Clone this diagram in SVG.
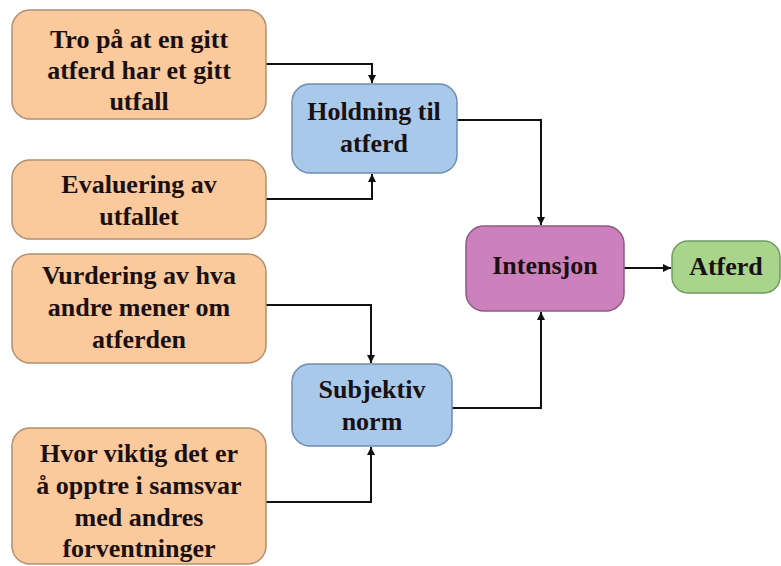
<svg xmlns="http://www.w3.org/2000/svg" width="781" height="566" viewBox="0 0 781 566">
<defs>
<marker id="ah" viewBox="0 0 10 10" refX="10" refY="5" markerWidth="8" markerHeight="8" markerUnits="userSpaceOnUse" orient="auto">
<path d="M0,0 L10,5 L0,10 z" fill="#111"/>
</marker>
<style>
.t{font-family:"Liberation Serif","Times New Roman",serif;font-weight:bold;font-size:26px;fill:#1a1010;text-anchor:middle}
.o{fill:#FAC99C;stroke:#B0906F;stroke-width:1.5}
.b{fill:#A8C9EA;stroke:#6F8DAE;stroke-width:1.5}
.p{fill:#CC80BC;stroke:#8C5A82;stroke-width:1.5}
.g{fill:#A8D48C;stroke:#6E9A5E;stroke-width:1.5}
.c{fill:none;stroke:#111;stroke-width:2}
</style>
</defs>
<rect width="781" height="566" fill="#fff"/>
<g id="connectors">
<path class="c" d="M266,64 H372 V83" marker-end="url(#ah)"/>
<path class="c" d="M266,199 H372 V174" marker-end="url(#ah)"/>
<path class="c" d="M457,120 H541 V225" marker-end="url(#ah)"/>
<path class="c" d="M266,305 H371 V363" marker-end="url(#ah)"/>
<path class="c" d="M266,502 H371 V447" marker-end="url(#ah)"/>
<path class="c" d="M452,408 H541 V312" marker-end="url(#ah)"/>
<path class="c" d="M624,268 H671" marker-end="url(#ah)"/>
</g>
<g id="tro">
<rect class="o" x="12" y="10" width="254" height="109" rx="18"/>
<text class="t" x="139" y="48">Tro på at en gitt</text>
<text class="t" x="139" y="79">atferd har et gitt</text>
<text class="t" x="139" y="110">utfall</text>
</g>
<g id="evaluering">
<rect class="o" x="12" y="160" width="254" height="79" rx="18"/>
<text class="t" x="139" y="193">Evaluering av</text>
<text class="t" x="139" y="225">utfallet</text>
</g>
<g id="vurdering">
<rect class="o" x="12" y="254" width="254" height="109" rx="18"/>
<text class="t" x="139" y="284">Vurdering av hva</text>
<text class="t" x="139" y="316">andre mener om</text>
<text class="t" x="139" y="348">atferden</text>
</g>
<g id="hvor">
<rect class="o" x="12" y="428" width="254" height="136" rx="18"/>
<text class="t" x="139" y="462">Hvor viktig det er</text>
<text class="t" x="139" y="494">å opptre i samsvar</text>
<text class="t" x="139" y="526">med andres</text>
<text class="t" x="139" y="557">forventninger</text>
</g>
<g id="holdning">
<rect class="b" x="292" y="84" width="165" height="89" rx="18"/>
<text class="t" x="374" y="120">Holdning til</text>
<text class="t" x="374" y="152">atferd</text>
</g>
<g id="subjektiv">
<rect class="b" x="292" y="364" width="160" height="82" rx="18"/>
<text class="t" x="372" y="398">Subjektiv</text>
<text class="t" x="372" y="430">norm</text>
</g>
<g id="intensjon">
<rect class="p" x="466" y="226" width="158" height="85" rx="18"/>
<text class="t" x="545" y="274">Intensjon</text>
</g>
<g id="atferd">
<rect class="g" x="672" y="241" width="108" height="52" rx="16"/>
<text class="t" x="726" y="275">Atferd</text>
</g>
</svg>
